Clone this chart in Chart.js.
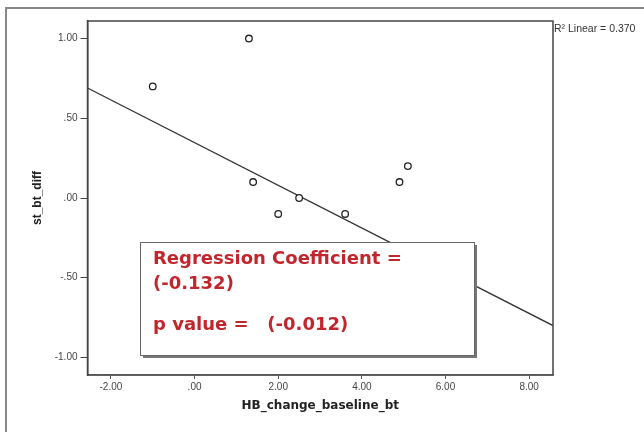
<!DOCTYPE html>
<html>
<head>
<meta charset="utf-8">
<script src="https://cdn.jsdelivr.net/npm/chart.js@4.4.1/dist/chart.umd.min.js"></script>
<style>
  html, body { margin: 0; padding: 0; background: #fff; }
  #wrap { width: 644px; height: 432px; }
</style>
</head>
<body>
<div id="wrap"><canvas id="scatter"></canvas></div>
<script>
// observed points (HB_change_baseline_bt vs st_bt_diff)
const hbChange = [-1.0, 1.3, 1.4, 2.0, 2.5, 3.6, 4.9, 5.1]
const stDiff = [0.70, 1.00, 0.10, -0.10, 0.00, -0.10, 0.10, 0.20]

// fitted line, read at both ends of the x range
const fitX = [-2.56, 8.57]
const fitY = [0.69, -0.80]

const xTicks = [-2, 0, 2, 4, 6, 8]
const yTicks = [-1, -0.5, 0, 0.5, 1]

const r2Label = 'R\u00b2 Linear = 0.370'
const noteLines = ['Regression Coefficient =', '(-0.132)', 'p value =   (-0.012)']

// SPSS style tick text: 1.00, .50, .00, -.50
function spssFmt(v) {
  let s = Math.abs(v).toFixed(2)
  if (s.startsWith('0')) s = s.slice(1)
  return (v < 0 ? '-' : '') + s
}

// frame around plot, outer figure border, R2 label and annotation box
const decorations = {
  id: 'decorations',
  afterDraw(chart) {
    const { ctx, chartArea: a } = chart
    ctx.save()
    // outer border (top + left only visible)
    ctx.strokeStyle = '#888'
    ctx.lineWidth = 2
    ctx.beginPath()
    ctx.moveTo(6, 432)
    ctx.lineTo(6, 8)
    ctx.lineTo(644, 8)
    ctx.stroke()

    // plot frame
    ctx.strokeStyle = '#444'
    ctx.lineWidth = 1.5
    ctx.strokeRect(a.left, a.top, a.right - a.left, a.bottom - a.top)

    // R2 label
    ctx.fillStyle = '#333'
    ctx.font = '10.5px "Liberation Sans", Arial, sans-serif'
    ctx.textBaseline = 'middle'
    ctx.fillText(r2Label, 554, 29)

    // annotation box with shadow
    const bx = 140, by = 242, bw = 334, bh = 113
    ctx.fillStyle = '#777'
    ctx.fillRect(bx + 3, by + 3, bw, bh)
    ctx.fillStyle = '#fff'
    ctx.fillRect(bx, by, bw, bh)
    ctx.strokeStyle = '#666'
    ctx.lineWidth = 1
    ctx.strokeRect(bx + 0.5, by + 0.5, bw, bh)

    ctx.fillStyle = '#c0262c'
    ctx.font = 'bold 18px "DejaVu Sans", sans-serif'
    ctx.textBaseline = 'middle'
    ctx.fillText(noteLines[0], 153, 259)
    ctx.fillText(noteLines[1], 153, 284)
    ctx.fillText(noteLines[2], 153, 325)
    ctx.restore()
  }
}

const ctx = document.getElementById('scatter')

new Chart(ctx, {
  type: 'scatter',
  data: {
    datasets: [
      {
        label: 'fit',
        type: 'line',
        data: fitX.map((x, i) => ({ x: x, y: fitY[i] })),
        borderColor: '#333',
        borderWidth: 1.3,
        pointRadius: 0,
        fill: false,
        order: 2
      },
      {
        label: 'st_bt_diff',
        data: hbChange.map((x, i) => ({ x: x, y: stDiff[i] })),
        pointStyle: 'circle',
        pointRadius: 3.3,
        pointBorderWidth: 1.3,
        pointBorderColor: '#222',
        pointBackgroundColor: '#fff',
        order: 1
      }
    ]
  },
  options: {
    responsive: true,
    maintainAspectRatio: false,
    animation: false,
    layout: {
      padding: { left: 0, top: 21, right: 91, bottom: 0 }
    },
    plugins: {
      legend: { display: false },
      tooltip: { enabled: false }
    },
    scales: {
      x: {
        type: 'linear',
        min: -2.56,
        max: 8.57,
        afterBuildTicks: (scale) => {
          scale.ticks = xTicks.map((v) => ({ value: v }))
        },
        afterFit: (scale) => {
          scale.height = 57
        },
        ticks: {
          callback: (v) => spssFmt(v),
          color: '#444',
          font: { size: 10, family: '"Liberation Sans", Arial, sans-serif' },
          padding: 2,
          maxRotation: 0
        },
        grid: {
          drawOnChartArea: false,
          drawTicks: true,
          tickLength: 4,
          color: '#555'
        },
        border: { display: true, color: '#888', width: 1.5 },
        title: {
          display: true,
          text: 'HB_change_baseline_bt',
          color: '#222',
          font: { size: 12, weight: 'bold', family: '"DejaVu Sans", sans-serif' },
          padding: { top: 0, bottom: 19 }
        }
      },
      y: {
        type: 'linear',
        min: -1.11,
        max: 1.11,
        afterBuildTicks: (scale) => {
          scale.ticks = yTicks.map((v) => ({ value: v }))
        },
        afterFit: (scale) => {
          scale.width = 87.5
        },
        ticks: {
          callback: (v) => spssFmt(v),
          color: '#444',
          font: { size: 10, family: '"Liberation Sans", Arial, sans-serif' },
          padding: 3
        },
        grid: {
          drawOnChartArea: false,
          drawTicks: true,
          tickLength: 7,
          color: '#444'
        },
        border: { display: true, color: '#444', width: 1.5 },
        title: {
          display: true,
          text: 'st_bt_diff',
          color: '#222',
          font: { size: 12, weight: 'bold', family: '"Liberation Sans", Arial, sans-serif' },
          padding: { top: 30, bottom: 0 }
        }
      }
    }
  },
  plugins: [decorations]
})
</script>
</body>
</html>
